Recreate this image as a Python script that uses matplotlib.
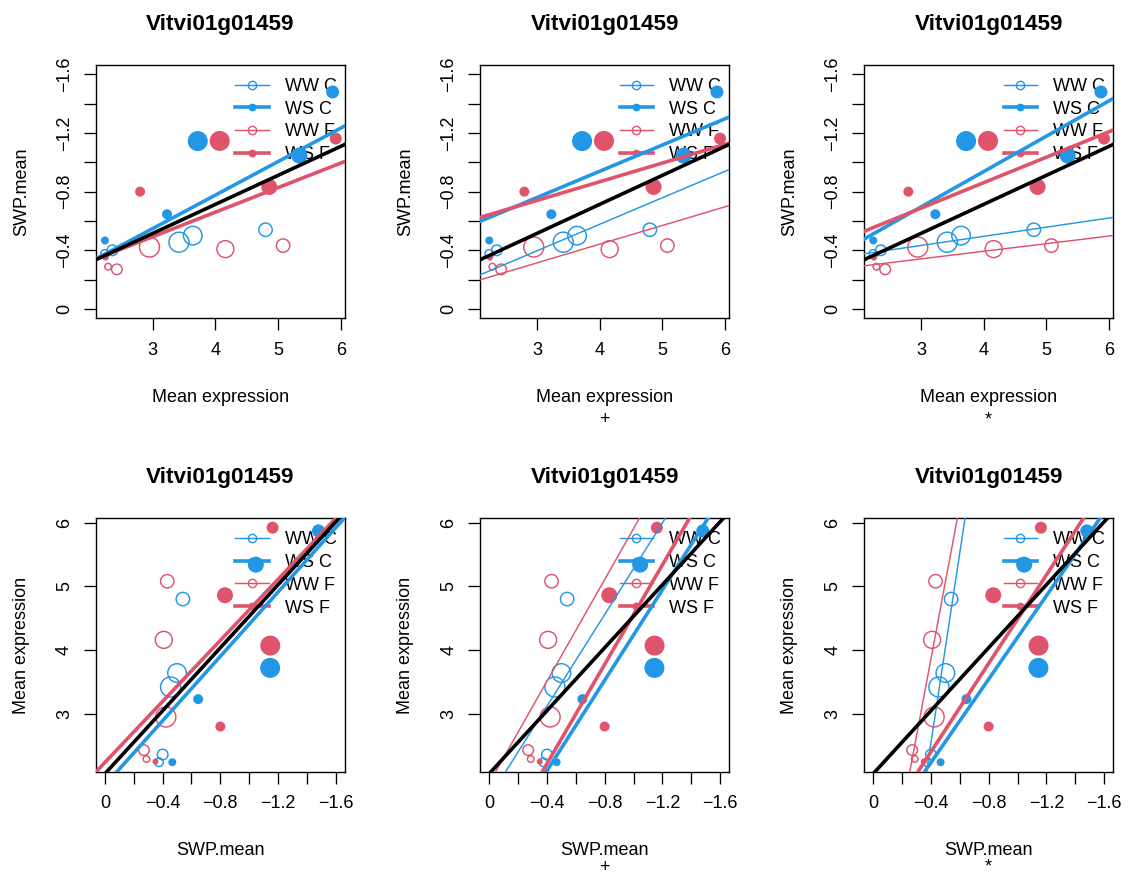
import matplotlib
matplotlib.use("Agg")
import matplotlib.pyplot as plt
from matplotlib.lines import Line2D
from matplotlib.ticker import FixedLocator

plt.rcParams['font.family'] = ['Liberation Sans', 'DejaVu Sans']

# ---------------- data ----------------
gene = "Vitvi01g01459"
groups = ["WW C", "WS C", "WW F", "WS F"]

expr_ww_c = [4.80, 3.64, 3.42, 2.36, 2.24]
swp_ww_c = [-0.54, -0.50, -0.455, -0.40, -0.375]
size_ww_c = [6.7, 9.3, 10.0, 5.3, 4.3]

expr_ws_c = [5.87, 3.72, 5.34, 3.23, 2.24]
swp_ws_c = [-1.48, -1.145, -1.046, -0.646, -0.467]
size_ws_c = [6.5, 10.0, 8.0, 5.0, 4.0]

expr_ww_f = [5.08, 4.16, 2.95, 2.43, 2.29]
swp_ww_f = [-0.432, -0.408, -0.422, -0.27, -0.288]
size_ww_f = [6.7, 8.5, 10.0, 5.3, 3.3]

expr_ws_f = [5.92, 4.07, 4.86, 2.80, 2.25]
swp_ws_f = [-1.162, -1.146, -0.832, -0.80, -0.350]
size_ws_f = [6.0, 10.0, 8.0, 5.0, 3.0]

# fitted lines: SWP = a + b * expression (top row)
top_overall = (0.0794, -0.1981)
top_fits = [
    {"WS C": (0.138, -0.2286), "WS F": (0.0106, -0.1676)},
    {"WW C": (0.1467, -0.181), "WS C": (-0.2221, -0.1792),
     "WW F": (0.0689, -0.1276), "WS F": (-0.3571, -0.1276)},
    {"WW C": (-0.2452, -0.0625), "WS C": (0.0292, -0.2415),
     "WW F": (-0.1852, -0.052), "WS F": (-0.165, -0.174)},
]
# fitted lines: expression = a + b * SWP (bottom row)
bot_overall = (2.06, -2.47)
bot_fits = [
    {"WS C": (1.881, -2.525), "WS F": (2.237, -2.394)},
    {"WW C": (1.683, -3.592), "WS C": (0.685, -3.55),
     "WW F": (1.914, -3.99), "WS F": (0.655, -3.90)},
    {"WW C": (-3.415, -14.9), "WS C": (0.927, -3.27),
     "WW F": (-0.968, -12.07), "WS F": (1.016, -3.467)},
]
sub_labels = ["", "+", "*"]
swp_ticks = [0, -0.2, -0.4, -0.6, -0.8, -1.0, -1.2, -1.4, -1.6]
swp_labels = ["0", "", "\u22120.4", "", "\u22120.8", "", "\u22121.2", "", "\u22121.6"]
expr_ticks = [3, 4, 5, 6]

# ---------------- style ----------------
BLUE = "#2297E6"
RED = "#DF536B"
color = {"WW C": BLUE, "WS C": BLUE, "WW F": RED, "WS F": RED}
filled = {"WW C": False, "WS C": True, "WW F": False, "WS F": True}
data = {
    "WW C": (expr_ww_c, swp_ww_c, size_ww_c),
    "WS C": (expr_ws_c, swp_ws_c, size_ws_c),
    "WW F": (expr_ww_f, swp_ww_f, size_ww_f),
    "WS F": (expr_ws_f, swp_ws_f, size_ws_f),
}
THICK = 2.6
THIN = 1.05
FS = 13
W, H = 1128, 876
fig = plt.figure(figsize=(W / 100, H / 100), dpi=100)

box_w, box_h = 249.3, 253.3
lefts = [95.7, 480.0, 864.0]
tops = [65.0, 518.3]


def fx(x):
    return x / W


def fy(y):
    return 1 - y / H


def draw_panel(ax, row, col):
    for g in groups:
        ex, sw, sz = data[g]
        xs, ys = (ex, sw) if row == 0 else (sw, ex)
        s = [(2 * r * 0.72) ** 2 for r in sz]
        if filled[g]:
            ax.scatter(xs, ys, s=s, c=color[g], edgecolors='none', zorder=2)
        else:
            ax.scatter(xs, ys, s=s, facecolors='none', edgecolors=color[g],
                       linewidths=1.05, zorder=2)
    fits = top_fits[col] if row == 0 else bot_fits[col]
    for g in ["WW C", "WW F", "WS C", "WS F"]:
        if g in fits:
            a, b = fits[g]
            lw = THICK if g.startswith("WS") else THIN
            ax.axline((0, a), slope=b, color=color[g], lw=lw, zorder=3)
    a, b = top_overall if row == 0 else bot_overall
    ax.axline((0, a), slope=b, color="black", lw=THICK, zorder=4)

    all_expr = expr_ww_c + expr_ws_c + expr_ww_f + expr_ws_f
    lo, hi = min(all_expr), max(all_expr)
    d = 0.04 * (hi - lo)
    elim = (lo - d, hi + d)
    slim = (0 + 0.064, -1.6 - 0.064)
    if row == 0:
        ax.set_xlim(*elim)
        ax.set_ylim(*slim)
        ax.xaxis.set_major_locator(FixedLocator(expr_ticks))
        ax.yaxis.set_major_locator(FixedLocator(swp_ticks))
        ax.set_xticklabels([str(t) for t in expr_ticks])
        ax.set_yticklabels(swp_labels)
    else:
        ax.set_xlim(*slim)
        ax.set_ylim(*elim)
        ax.xaxis.set_major_locator(FixedLocator(swp_ticks))
        ax.yaxis.set_major_locator(FixedLocator(expr_ticks))
        ax.set_xticklabels(swp_labels)
        ax.set_yticklabels([str(t) for t in expr_ticks])
    ax.tick_params(direction='out', length=8.4, width=0.95, labelsize=FS,
                   color='black')
    ax.tick_params(axis='x', pad=8.6)
    ax.tick_params(axis='y', pad=8.0)
    for t in ax.yaxis.get_major_ticks():
        t.label1.set_rotation(90)
        t.label1.set_va('center')
    for sp in ax.spines.values():
        sp.set_linewidth(1.0)

    handles = []
    for g in groups:
        if filled[g]:
            h = Line2D([], [], color=color[g], lw=THICK, marker='o', ms=4.6)
        else:
            h = Line2D([], [], color=color[g], lw=THIN, marker='o', ms=6.0,
                       mfc='none', mew=1.0)
        handles.append(h)
    leg = ax.legend(handles, groups, loc='upper right',
                    bbox_to_anchor=(1, 0.981),
                    borderaxespad=0, borderpad=0.45, frameon=False,
                    handlelength=1.85, handletextpad=0.9, labelspacing=0.32,
                    fontsize=FS)
    leg.set_zorder(1.5)


for row in range(2):
    for col in range(3):
        L = lefts[col]
        T = tops[row]
        ax = fig.add_axes([fx(L), fy(T + box_h), box_w / W, box_h / H])
        draw_panel(ax, row, col)
        cx = L + box_w / 2
        fig.text(fx(cx), fy(T - 35), gene, ha='center', va='baseline',
                 fontsize=16.2, fontweight='bold')
        xlab = "Mean expression" if row == 0 else "SWP.mean"
        ylab = "SWP.mean" if row == 0 else "Mean expression"
        fig.text(fx(cx), fy(T + 336.7), xlab, ha='center', va='baseline',
                 fontsize=FS)
        if sub_labels[col]:
            sub_y = T + 359 if row == 0 else min(T + 359, H - 4.5)
            fig.text(fx(cx), fy(sub_y), sub_labels[col], ha='center',
                     va='baseline', fontsize=FS)
        fig.text(fx(L - 74), fy(T + box_h / 2), ylab, ha='center', va='center',
                 rotation=90, fontsize=FS)

fig.savefig("out.png", dpi=100)
